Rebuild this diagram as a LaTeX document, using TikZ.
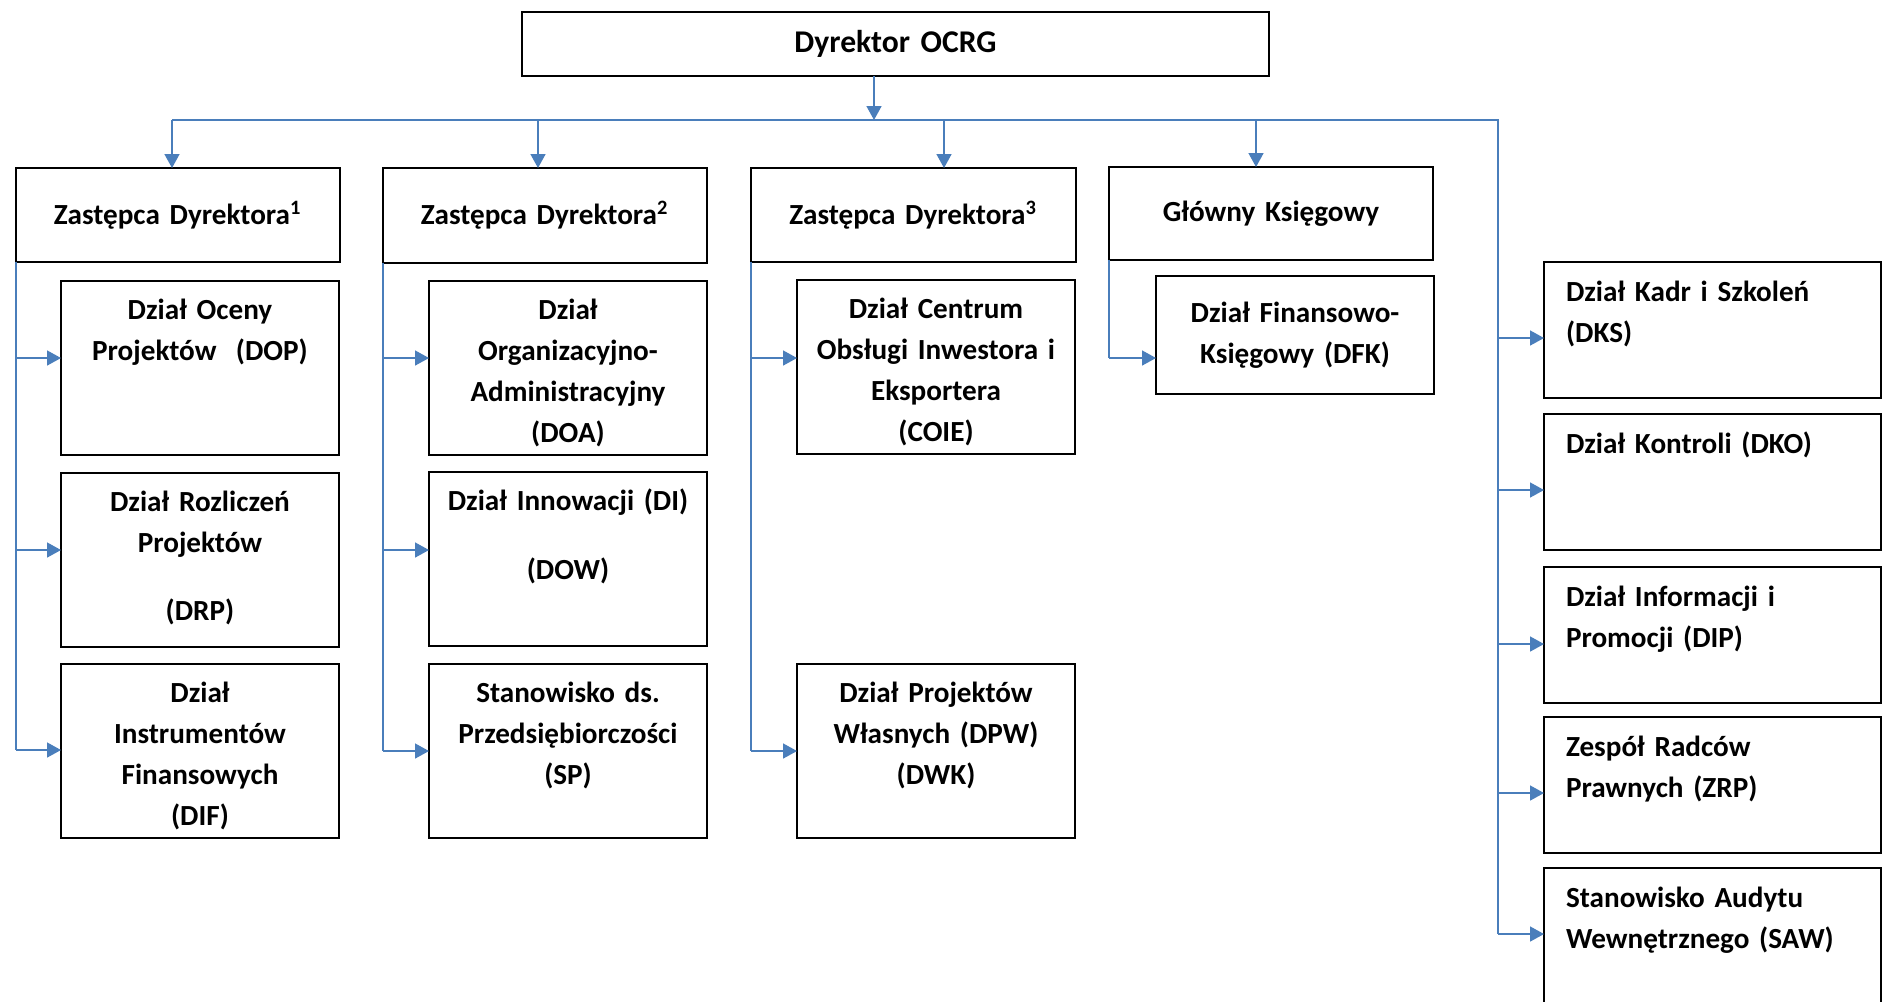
\documentclass[tikz,border=0pt]{standalone}
\usepackage{fontspec}
\setmainfont{Carlito}
\usepackage{xcolor}
\usepackage{tikz}
\usetikzlibrary{arrows.meta}
\definecolor{linkblue}{RGB}{74,126,187}
\tikzset{
  unit/.style={draw, line width=0.6pt, inner sep=0pt, outer sep=0pt, anchor=north west,
    align=center, font=\bfseries\fontsize{8.3pt}{11.67pt}\selectfont},
  kid/.style={unit, text width=2.78cm, text height=0.38cm, text depth=1.36cm},
  side/.style={unit, align=left, inner xsep=0.22cm, text width=2.93cm, text height=0.39cm, text depth=0.97cm},
  wire/.style={linkblue, line width=0.45pt},
  link/.style={wire, -{Triangle[length=0.14cm,width=0.15cm]}}
}

\begin{document}
\begin{tikzpicture}
\useasboundingbox (0,0) rectangle (18.83,-10.01);
\clip (0,0) rectangle (18.83,-10.01);
% Top
\node[unit, text width=7.47cm, minimum height=0.64cm, font=\bfseries\fontsize{9pt}{11.67pt}\selectfont] (dyr) at (5.22,-0.12) {Dyrektor OCRG};
% Deputies
\node[unit, text width=3.24cm, minimum height=0.94cm] (z1) at (0.16,-1.68) {Zastępca Dyrektora\textsuperscript{1}};
\node[unit, text width=3.24cm, minimum height=0.95cm] (z2) at (3.83,-1.68) {Zastępca Dyrektora\textsuperscript{2}};
\node[unit, text width=3.25cm, minimum height=0.94cm] (z3) at (7.51,-1.68) {Zastępca Dyrektora\textsuperscript{3}};
\node[unit, text width=3.24cm, minimum height=0.93cm] (gk) at (11.09,-1.67) {Główny Księgowy};
% Departments
\node[kid] (dop) at (0.61,-2.81) {Dział Oceny\\Projektów\ \ (DOP)};
\node[kid] (drp) at (0.61,-4.73) {Dział Rozliczeń\\Projektów\\[0.27cm](DRP)};
\node[kid] (dif) at (0.61,-6.64) {Dział\\Instrumentów\\Finansowych\\(DIF)};
\node[kid] (doa) at (4.29,-2.81) {Dział\\Organizacyjno-\\Administracyjny\\(DOA)};
\node[kid] (di) at (4.29,-4.72) {Dział Innowacji (DI)\\[0.28cm](DOW)};
\node[kid] (sp) at (4.29,-6.64) {Stanowisko ds.\\Przedsiębiorczości\\(SP)};
\node[kid] (coie) at (7.97,-2.80) {Dział Centrum\\Obsługi Inwestora i\\Eksportera\\(COIE)};
\node[kid] (dpw) at (7.97,-6.64) {Dział Projektów\\Własnych (DPW)\\(DWK)};
\node[unit, text width=2.78cm, minimum height=1.18cm] (dfk) at (11.56,-2.76) {Dział Finansowo-\\Księgowy (DFK)};
% Right column
\node[side] (dks) at (15.44,-2.62) {Dział Kadr i Szkoleń\\(DKS)};
\node[side] (dko) at (15.44,-4.14) {Dział Kontroli (DKO)};
\node[side] (dip) at (15.44,-5.67) {Dział Informacji i\\Promocji (DIP)};
\node[side] (zrp) at (15.44,-7.17) {Zespół Radców\\Prawnych (ZRP)};
\node[side, text depth=1.1cm] (saw) at (15.44,-8.68) {Stanowisko Audytu\\Wewnętrznego (SAW)};
% Main bus
\coordinate (hub) at (8.74,-1.20);
\coordinate (lbus) at (1.72,-1.20);
\coordinate (rbus) at (14.98,-1.20);
\coordinate (rend) at (14.98,-9.34);
\draw[link] (hub |- dyr.south) -- (hub);
\draw[wire] (lbus) -- (rbus) -- (rend);
\foreach \n/\x in {z1/1.72,z2/5.38,z3/9.44,gk/12.56}
  {\coordinate (d) at (\x,-1.20); \draw[link] (d) -- (d |- \n.north);}
% Spines
\foreach \z/\y in {z1/-7.50,z2/-7.51,z3/-7.51,gk/-3.58}
  {\coordinate (p) at (0,\y); \draw[wire] (\z.south west) -- (p -| \z.south west);}
\foreach \z/\n/\y in {z1/dop/-3.58,z1/drp/-5.50,z1/dif/-7.50,z2/doa/-3.58,z2/di/-5.50,z2/sp/-7.51,z3/coie/-3.58,z3/dpw/-7.51,gk/dfk/-3.58}
  {\coordinate (p) at (0,\y); \draw[link] (p -| \z.south west) -- (p -| \n.west);}
\foreach \n/\y in {dks/-3.38,dko/-4.90,dip/-6.44,zrp/-7.93,saw/-9.34}
  {\coordinate (p) at (14.98,\y); \draw[link] (p) -- (p -| \n.west);}
\end{tikzpicture}
\end{document}
